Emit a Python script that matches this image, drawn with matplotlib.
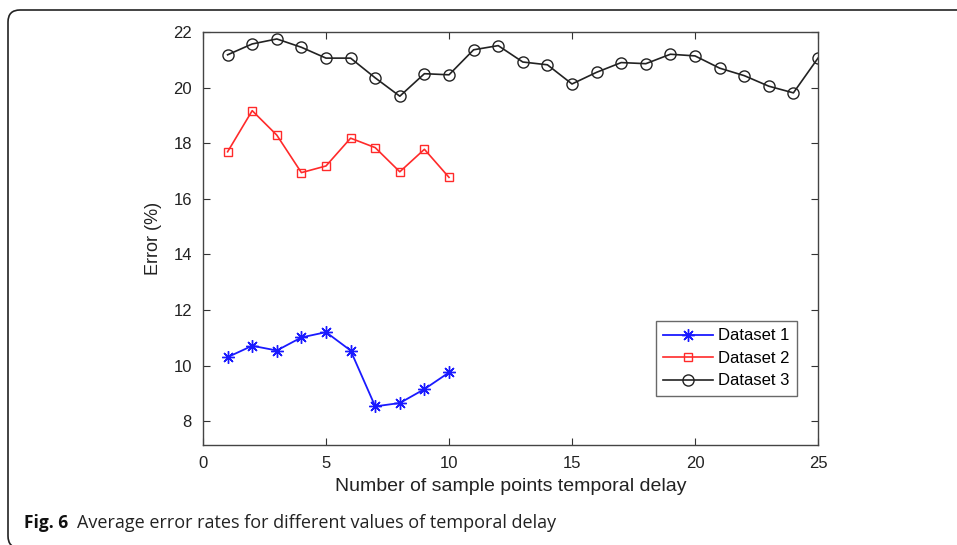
import matplotlib
matplotlib.use("Agg")
import matplotlib.pyplot as plt
from matplotlib.patches import FancyBboxPatch

x1 = [1, 2, 3, 4, 5, 6, 7, 8, 9, 10]
d1 = [10.30, 10.71, 10.54, 11.01, 11.20, 10.54, 8.53, 8.65, 9.15, 9.75]
x2 = [1, 2, 3, 4, 5, 6, 7, 8, 9, 10]
d2 = [17.69, 19.17, 18.29, 16.94, 17.18, 18.18, 17.84, 16.97, 17.78, 16.77]
x3 = list(range(1, 26))
d3 = [21.18, 21.57, 21.75, 21.45, 21.06, 21.06, 20.35, 19.69, 20.50, 20.46,
      21.36, 21.51, 20.92, 20.82, 20.13, 20.55, 20.90, 20.86, 21.20, 21.14,
      20.70, 20.43, 20.05, 19.81, 21.06]
labels = ["Dataset 1", "Dataset 2", "Dataset 3"]
xticks = [0, 5, 10, 15, 20, 25]
yticks = [8, 10, 12, 14, 16, 18, 20, 22]

W, H = 957, 545
fig = plt.figure(figsize=(W / 100, H / 100), dpi=100)
plt.rcParams['font.family'] = ['Liberation Sans', 'DejaVu Sans']

# outer rounded frame
frame = FancyBboxPatch((8 / 100, -3 / 100), (980 - 8) / 100, (H - 10 + 3) / 100,
                       boxstyle="round,pad=0,rounding_size=0.12",
                       transform=fig.dpi_scale_trans, fill=False,
                       edgecolor='#222222', linewidth=1.2, clip_on=False)
fig.patches.append(frame)

L, R, T, B = 203, 818, 32, 445
ax = fig.add_axes([L / W, (H - B) / H, (R - L) / W, (B - T) / H])

ax.plot(x1, d1, color='#1a1aff', marker=(8, 2, 0), markersize=9,
        markeredgewidth=1.0, linewidth=1.3, label=labels[0])
ax.plot(x2, d2, color='#ff2a2a', marker='s', markersize=6, markerfacecolor='none',
        markeredgewidth=1.0, linewidth=1.2, label=labels[1])
ax.plot(x3, d3, color='#222222', marker='o', markersize=8, markerfacecolor='none',
        markeredgewidth=1.0, linewidth=1.2, label=labels[2])

ax.set_xlim(0, 25)
ax.set_ylim(7.14, 22)
ax.set_xticks(xticks)
ax.set_yticks(yticks)
ax.tick_params(direction='in', length=5, width=0.8, top=True, right=True,
               labelsize=12, colors='#333333', labelcolor='#222222', pad=8)
for s in ax.spines.values():
    s.set_color('#444444')
    s.set_linewidth(1.0)
ax.set_xlabel("Number of sample points temporal delay", fontsize=14,
              color='#222222', labelpad=5)
ax.set_ylabel("Error (%)", fontsize=13, color='#222222', labelpad=8)

leg = ax.legend(loc='lower right', bbox_to_anchor=(0.966, 0.119), fontsize=12,
                frameon=True, fancybox=False, edgecolor='#444444',
                handlelength=3.0, borderpad=0.45, labelspacing=0.45,
                handletextpad=0.3, borderaxespad=0)
leg.get_frame().set_linewidth(1.0)

cap_font = ['Open Sans', 'Liberation Sans']
fig.text(24 / W, 1 - 523 / H, "Fig. 6", fontsize=12.5, fontweight='bold',
         family=cap_font, va='center', ha='left', color='#111111')
fig.text(77 / W, 1 - 523 / H, "Average error rates for different values of temporal delay",
         fontsize=13, family=cap_font, va='center', ha='left', color='#222222')

fig.savefig("out.png", dpi=100)
